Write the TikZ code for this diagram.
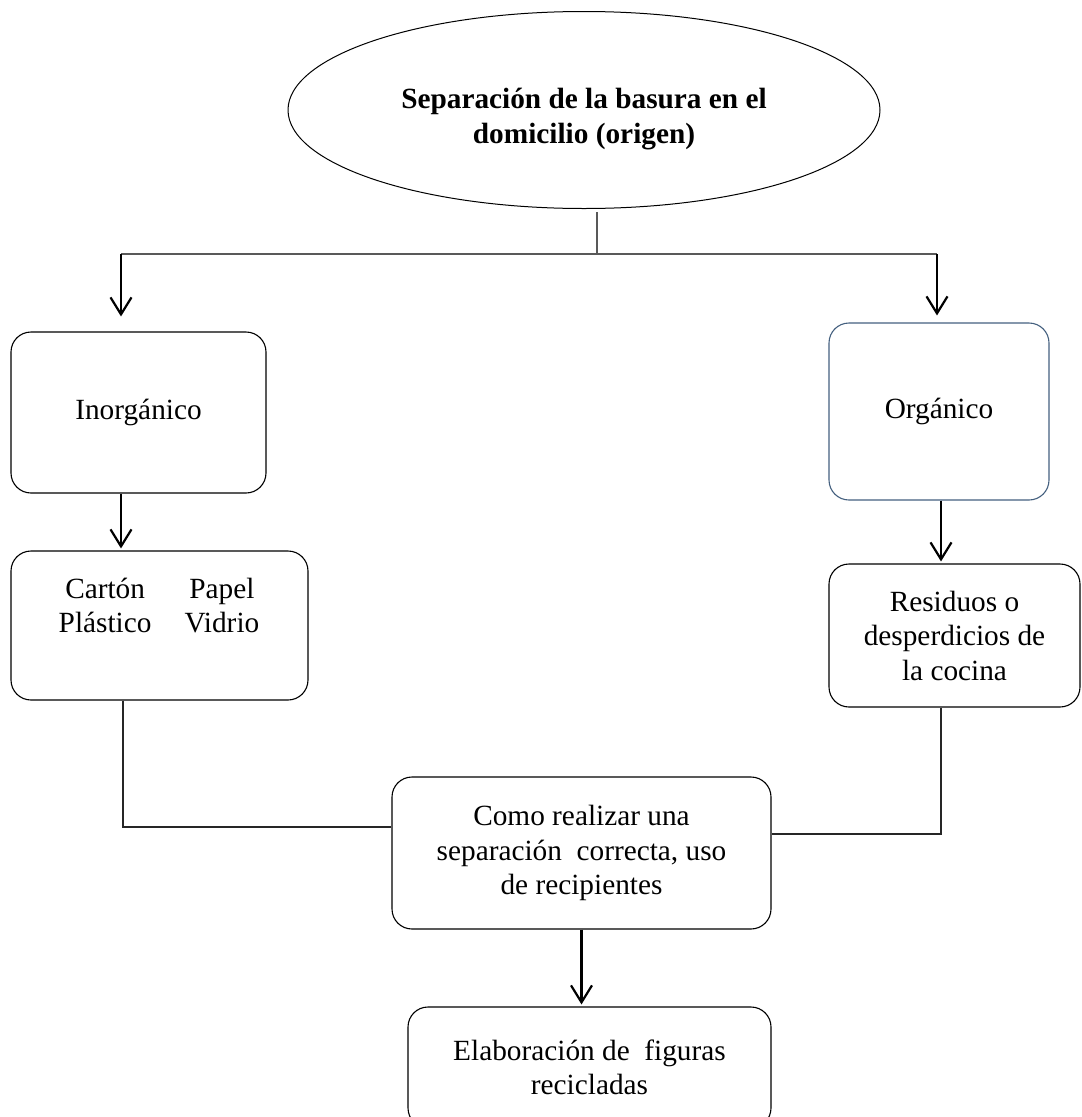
\documentclass[tikz,border=0pt]{standalone}
\usepackage{fontspec}
\setmainfont{Liberation Serif}
\usetikzlibrary{shapes.geometric,arrows.meta,calc}
\definecolor{orgblue}{HTML}{44607F}
\definecolor{connGray}{HTML}{595959}
\begin{document}
\begin{tikzpicture}[x=1pt,y=-1pt,
 txt/.style={font=\fontsize{29.3}{34.5}\selectfont, align=center},
 box/.style={draw, rounded corners=20pt, line width=1.1pt, inner sep=0pt, txt},
 arr/.style={draw, line width=2.2pt, -{Straight Barb[length=17pt,width=21pt]}},
 conn/.style={draw, line width=2pt, color=connGray},
 link/.style={draw, line width=1.3pt, color=black!85}]
\useasboundingbox (0,0) rectangle (1082,1117);

\node[ellipse, draw, line width=1pt, minimum width=592pt, minimum height=197pt, inner sep=0pt] (title) at (584,110) {};
\node[txt, font=\fontsize{29.3}{35}\selectfont\bfseries] (titletxt) at (584,119) {Separación de la basura en el\\domicilio (origen)};

\node[box, minimum width=255pt, minimum height=161pt] (inorg) at (138.5,412.5) {Inorgánico};
\node[box, draw=orgblue, minimum width=220pt, minimum height=177pt] (org) at (939,411.5) {Orgánico};
\node[box, minimum width=297pt, minimum height=149pt] (carton) at (159.5,625.5) {};
\node[txt] (cartontxt) at (159,608.5) {\setlength{\tabcolsep}{0pt}\begin{tabular}{c@{\hspace{33pt}}c}Cartón & Papel\\ Plástico & Vidrio\end{tabular}};
\node[box, minimum width=251pt, minimum height=143pt] (resid) at (954.5,635.5) {Residuos o\\desperdicios de\\la cocina};
\node[box, minimum width=379pt, minimum height=152pt] (como) at (581.5,853) {Como realizar una\\separación~ correcta, uso\\de recipientes};
\node[box, minimum width=363pt, minimum height=121pt] (elab) at (589.5,1067.5) {Elaboración de~ figuras\\recicladas};

\coordinate (stemtop) at (597,212);
\coordinate (jL) at (121,254);
\coordinate (jR) at (937,254);
\coordinate (colL) at (123,0);
\coordinate (colR) at (941,0);

\draw[conn] (stemtop) -- (stemtop |- jL);
\draw[conn] (jL) -- (jR);
\draw[arr, shorten >=15pt] (jL) -- (jL |- inorg.north);
\draw[arr, shorten >=7pt] (jR) -- (jR |- org.north);
\draw[arr, shorten >=2pt] (inorg.south -| jL) -- (carton.north -| jL);
\draw[arr, shorten >=2pt] (org.south -| colR) -- (resid.north -| colR);
\draw[link] (carton.south -| colL) |- ([yshift=26pt]como.west);
\draw[link] (resid.south -| colR) |- ([yshift=19pt]como.east);
\draw[arr, shorten >=2pt] (como.south) -- (como.south |- elab.north);
\end{tikzpicture}
\end{document}
